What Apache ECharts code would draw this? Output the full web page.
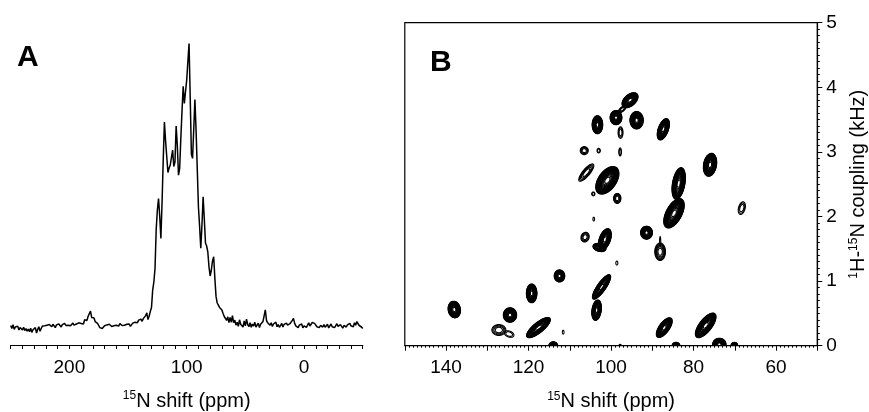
<!DOCTYPE html>
<html>
<head>
<meta charset="utf-8">
<script src="https://cdn.jsdelivr.net/npm/echarts@6/dist/echarts.min.js"></script>
<style>html,body{margin:0;padding:0;background:#fff;}#c{width:869px;height:412px;}</style>
</head>
<body>
<div id="c"></div>
<script>
// ---- Panel A: 1D 15N spectrum, sampled every 1 ppm from 250 down to -50 ----
const shiftStartA = 250;
const shiftStepA = -1;
const intensityA = [
  6.5,5.5,6.8,5.2,6.0,5.4,6.3,5.0,5.8,5.6,
  5.0,5.9,4.8,5.5,4.6,5.3,4.4,5.6,4.2,5.1,
  4.5,5.8,4.0,5.2,6.1,4.6,5.5,6.3,5.7,6.4,
  5.9,6.6,6.0,6.8,6.2,6.1,6.9,6.3,5.8,6.7,
  6.2,7.0,6.4,6.0,6.8,6.3,7.2,6.5,5.9,6.6,
  7.1,6.4,6.2,7.3,6.6,6.0,7.0,6.4,7.4,6.8,
  7.2,7.8,7.0,8.4,9.0,8.2,9.6,9.8,11.3,9.2,
  8.6,9.0,7.8,8.4,7.2,6.5,5.8,6.2,5.5,6.0,
  6.4,6.0,6.7,6.3,6.9,6.5,6.2,6.8,6.4,7.0,
  6.6,6.9,6.3,7.1,6.7,6.5,7.0,6.6,6.4,6.9,
  6.5,7.0,6.2,6.8,7.3,6.9,7.6,8.0,7.4,8.3,
  8.0,8.6,7.9,8.8,9.3,9.8,10.7,8.5,9.6,11.2,
  12.5,18.3,21.0,25.5,38.5,45.0,48.8,43.0,35.5,47.6,
  61.7,74.3,68.0,67.7,57.5,59.0,60.0,62.5,65.0,59.5,
  61.0,73.0,66.5,56.6,58.8,68.9,78.0,86.2,80.5,80.2,
  88.3,94.5,100.5,82.3,63.6,62.2,72.0,81.8,71.4,58.7,
  46.0,39.5,32.3,40.0,49.4,42.0,34.0,33.0,31.0,26.0,
  23.0,25.0,28.0,29.4,22.2,16.2,14.0,13.3,12.5,12.0,
  11.7,10.5,9.5,9.0,8.2,9.4,7.5,9.2,7.6,9.8,
  7.4,8.3,6.6,7.6,6.2,8.4,6.9,7.2,6.0,8.0,
  6.4,8.6,6.8,6.1,7.4,5.9,7.0,6.3,7.6,6.0,
  6.6,7.3,5.8,6.9,6.4,7.8,8.4,11.7,8.2,7.4,
  8.0,6.6,7.4,6.2,7.0,6.5,7.6,6.1,6.8,5.9,
  6.5,7.2,6.0,6.9,6.3,7.3,6.6,6.0,7.1,7.6,
  8.2,8.9,7.2,6.4,7.0,5.8,6.6,6.1,7.0,5.7,
  6.4,6.9,5.9,6.6,7.4,6.3,6.8,7.5,8.0,7.2,
  7.0,6.1,6.7,5.8,6.5,7.1,6.0,6.8,5.9,6.4,
  6.9,5.7,6.3,7.0,6.1,6.6,5.8,6.4,7.1,6.2,
  5.9,6.8,6.2,5.6,6.5,7.0,6.0,6.7,6.3,7.2,
  6.4,7.0,6.1,7.4,6.6,7.8,7.2,6.5,6.9,6.0,
  5.5
];
const shiftTicksA = [200, 100, 0];

// ---- Panel B: 2D peaks (15N shift ppm, 1H-15N coupling kHz, half-widths, tilt deg, contour levels) ----
const peakShift    = [138.0,124.5,127.2,124.7,117.6,119.25,112.5,114.0,111.6,103.5,102.3,101.5,102.8,106.3,104.2,98.6,91.4,88.1,88.1,84.74,83.6,68.3,76.0,87.33,93.8,98.8,95.4,97.3,103.3,97.7,97.8,103.0,106.5,106.0,100.9,104.3,98.5,87.1,77.06,84.25,73.75,70.1,97.8];
const peakCoupling = [0.56,0.475,0.243,0.18,0.28,0.81,1.08,-0.01,0.21,0.55,0.91,1.646,1.52,1.68,1.96,1.28,1.75,1.455,1.61,2.05,2.51,2.13,2.80,3.35,3.49,3.53,3.80,3.66,3.42,3.30,3.0,3.02,3.02,2.68,2.56,2.35,2.28,0.28,0.315,0.0,0.02,0.0,0.0];
const peakHalfShift    = [1.49,1.62,1.7,1.2,1.22,1.28,1.28,1.12,0.2,1.12,1.03,1.34,1.62,0.97,0.2,0.25,1.44,1.3,0.15,1.9,1.5,0.8,1.57,1.22,1.62,1.43,1.36,0.5,1.28,0.6,0.32,0.4,0.97,0.85,2.17,0.4,0.9,1.22,1.49,0.95,1.62,0.82,0.3];
const peakHalfCoupling = [0.13,0.112,0.085,0.046,0.23,0.146,0.093,0.07,0.03,0.16,0.228,0.174,0.06,0.077,0.03,0.03,0.1,0.135,0.08,0.25,0.25,0.10,0.18,0.174,0.134,0.11,0.146,0.077,0.139,0.09,0.062,0.035,0.062,0.17,0.243,0.03,0.077,0.18,0.23,0.052,0.095,0.052,0.02];
const peakTilt   = [-10,0,0,20,51,0,0,0,0,8,35,20,15,20,0,0,0,0,0,28,10,15,10,20,0,0,49,50,0,0,0,0,0,40,35,0,0,36,38,0,0,0,0];
const peakLevels = [16,16,4,2,18,16,13,14,1,16,17,17,13,4,1,1,15,6,1,20,18,3,18,17,18,17,17,4,17,3,2,2,4,5,20,2,5,17,18,12,16,11,1];
const shiftTicksB = [140, 120, 100, 80, 60];
const couplingTicksB = [0, 1, 2, 3, 4, 5];

const FONT = '"Liberation Sans", Arial, Helvetica, sans-serif';

const spectrumData = intensityA.map((v, i) => [shiftStartA + i * shiftStepA, v]);
const peakData = peakShift.map((s, i) => [s, peakCoupling[i], peakHalfShift[i], peakHalfCoupling[i], peakTilt[i], peakLevels[i]]);

function renderPeak(params, api) {
  const x = api.value(0), y = api.value(1);
  const c = api.coord([x, y]);
  const cx = api.coord([x + api.value(2), y]);
  const cy = api.coord([x, y + api.value(3)]);
  const a = Math.abs(cx[0] - c[0]);
  const b = Math.abs(cy[1] - c[1]);
  const phi = api.value(4) * Math.PI / 180;
  const n = api.value(5);
  const children = [];
  for (let k = 0; k < n; k++) {
    const s = Math.sqrt(1 - k / n);
    const pts = [];
    for (let j = 0; j < 48; j++) {
      const t = j / 48 * 2 * Math.PI;
      const ex = a * s * Math.cos(t), ey = b * s * Math.sin(t);
      pts.push([c[0] + ex * Math.cos(phi) - ey * Math.sin(phi), c[1] + ex * Math.sin(phi) + ey * Math.cos(phi)]);
    }
    children.push({ type: 'polygon', shape: { points: pts }, style: { fill: 'none', stroke: '#000', lineWidth: 1.1 } });
  }
  return { type: 'group', children };
}

const labelStyle = { color: '#000', fontFamily: FONT, fontSize: 19 };
const nameStyleBase = {
  color: '#000', fontFamily: FONT, fontSize: 20,
  rich: {
    sup: { fontFamily: FONT, fontSize: 12, color: '#000', verticalAlign: 'top', lineHeight: 22 },
    n: { fontFamily: FONT, fontSize: 20, color: '#000', lineHeight: 22 }
  }
};

const chart = echarts.init(document.getElementById('c'), null, { renderer: 'canvas' });
chart.setOption({
  animation: false,
  backgroundColor: '#fff',
  grid: [
    { left: 10.7, right: 506.3, top: 39, bottom: 67, containLabel: false, outerBoundsMode: 'none' },
    { left: 404.8, right: 51.7, top: 22.7, bottom: 66.3, containLabel: false, outerBoundsMode: 'none', show: true, borderColor: '#000', borderWidth: 1.2, backgroundColor: 'transparent' }
  ],
  xAxis: [
    {
      gridIndex: 0, type: 'value', min: -50, max: 250, interval: 10, inverse: true,
      name: '{sup|15}{n|N shift (ppm)}', nameLocation: 'middle', nameGap: 45,
      nameTextStyle: nameStyleBase,
      axisLine: { lineStyle: { color: '#000', width: 1.2 } },
      axisTick: { length: 4, lineStyle: { color: '#000', width: 1 } },
      axisLabel: { ...labelStyle, margin: 13, formatter: v => shiftTicksA.includes(v) ? String(v) : '' },
      splitLine: { show: false }
    },
    {
      gridIndex: 1, type: 'value', min: 50, max: 150, interval: 10, inverse: true,
      name: '{sup|15}{n|N shift (ppm)}', nameLocation: 'middle', nameGap: 45,
      nameTextStyle: nameStyleBase,
      axisLine: { lineStyle: { color: '#000', width: 1.2 } },
      axisTick: { length: 5, lineStyle: { color: '#000', width: 1 } },
      minorTick: { show: true, splitNumber: 10, length: 2, lineStyle: { color: '#000', width: 1 } },
      axisLabel: { ...labelStyle, margin: 13, formatter: v => shiftTicksB.includes(v) ? String(v) : '' },
      splitLine: { show: false }
    }
  ],
  yAxis: [
    { gridIndex: 0, type: 'value', min: 0, max: 102, show: false },
    {
      gridIndex: 1, type: 'value', min: 0, max: 5, interval: 1, position: 'right',
      name: '{sup|1}{n|H-}{sup|15}{n|N coupling (kHz)}', nameLocation: 'middle', nameGap: 30, nameRotate: 90,
      nameTextStyle: nameStyleBase,
      axisLine: { show: true, lineStyle: { color: '#000', width: 1.2 } },
      axisTick: { show: true, length: 5, lineStyle: { color: '#000', width: 1 } },
      minorTick: { show: true, splitNumber: 10, length: 2.5, lineStyle: { color: '#000', width: 1 } },
      axisLabel: { ...labelStyle, margin: 9, formatter: v => couplingTicksB.includes(v) ? String(v) : '' },
      splitLine: { show: false }
    }
  ],
  graphic: [
    { type: 'text', style: { x: 17, y: 58, text: 'A', font: 'bold 30px ' + FONT, fill: '#000', verticalAlign: 'middle', align: 'left' } },
    { type: 'text', style: { x: 430, y: 62.5, text: 'B', font: 'bold 30px ' + FONT, fill: '#000', verticalAlign: 'middle', align: 'left' } }
  ],
  series: [
    {
      type: 'line', xAxisIndex: 0, yAxisIndex: 0, data: spectrumData,
      showSymbol: false, symbol: 'none', lineStyle: { color: '#000', width: 1.5 }, silent: true
    },
    {
      type: 'custom', xAxisIndex: 1, yAxisIndex: 1, data: peakData, renderItem: renderPeak, clip: true, silent: true
    }
  ]
});
</script>
</body>
</html>
